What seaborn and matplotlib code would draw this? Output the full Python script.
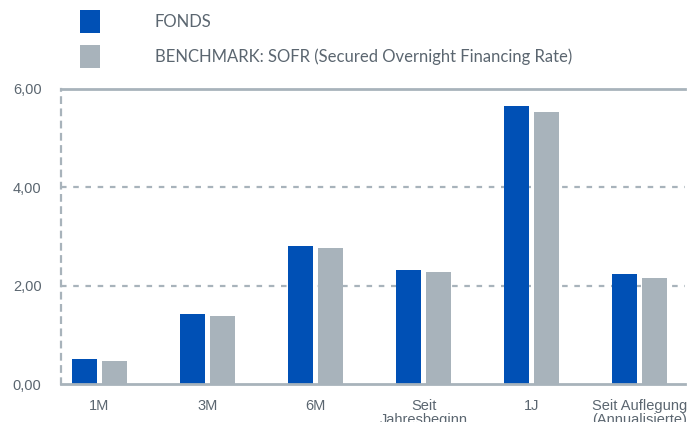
import pandas as pd
import numpy as np
import matplotlib
matplotlib.use("Agg")
import matplotlib.pyplot as plt
import seaborn as sns
from matplotlib.ticker import FuncFormatter, MultipleLocator

# -----------------------------
# Data
# -----------------------------
periods = ["1M", "3M", "6M", "Seit\nJahresbeginn", "1J", "Seit Auflegung\n(Annualisierte)"]
fonds = [0.50, 1.42, 2.80, 2.32, 5.65, 2.24]
benchmark = [0.46, 1.38, 2.76, 2.28, 5.53, 2.15]

series_names = ["FONDS", "BENCHMARK: SOFR (Secured Overnight Financing Rate)"]

df = pd.DataFrame({
    "Zeitraum": periods * 2,
    "Wert": fonds + benchmark,
    "Serie": [series_names[0]] * len(periods) + [series_names[1]] * len(periods),
})

blue = "#0050B5"
grey = "#A8B3BB"
line_col = "#A8B3BB"
text_col = "#5B6670"

sns.set_style("white")
plt.rcParams["font.family"] = ["Liberation Sans", "DejaVu Sans"]

fig = plt.figure(figsize=(6.92, 4.22), dpi=100)
ax = fig.add_axes([61 / 692, 1 - 384 / 422, (685 - 61) / 692, (384 - 89) / 422])

sns.barplot(data=df, x="Zeitraum", y="Wert", hue="Serie", order=periods,
            hue_order=series_names, palette=[blue, grey],
            width=0.556, gap=0.167, linewidth=0, saturation=1, ax=ax)

ax.set_xlim(-0.356, 5.42)
ax.set_ylim(0, 6)
ax.yaxis.set_major_locator(MultipleLocator(2))
ax.yaxis.set_major_formatter(FuncFormatter(lambda v, p: f"{v:.2f}".replace(".", ",")))
ax.set_xlabel("")
ax.set_ylabel("")

# grid and axis lines
for yv in [2, 4]:
    ax.axhline(yv, color=line_col, lw=1.6, ls=(0, (2.5, 3)), zorder=0)
for s in ["top", "bottom"]:
    ax.spines[s].set_color(line_col)
    ax.spines[s].set_linewidth(2)
ax.spines["right"].set_visible(False)
ax.spines["left"].set_color(line_col)
ax.spines["left"].set_linewidth(1.6)
ax.spines["left"].set_linestyle((0, (2.5, 3)))

ax.tick_params(axis="y", length=0, pad=14, labelsize=10.5, labelcolor=text_col)
ax.tick_params(axis="x", length=0, pad=10.5, labelsize=10.5, labelcolor=text_col)
for lab in ax.get_xticklabels():
    lab.set_linespacing(1.0)

# legend on top
handles, labels = ax.get_legend_handles_labels()
ax.legend_.remove()
fig.legend(handles, labels, loc="upper left", bbox_to_anchor=(80 / 692, 1 - 10 / 422),
           bbox_transform=fig.transFigure, frameon=False, borderpad=0, borderaxespad=0,
           handlelength=1.2, handleheight=1.7, labelspacing=0.75, handletextpad=3.3,
           prop={"family": ["Lato", "DejaVu Sans"], "size": 12}, labelcolor=text_col)

fig.savefig("out.png", dpi=100)
